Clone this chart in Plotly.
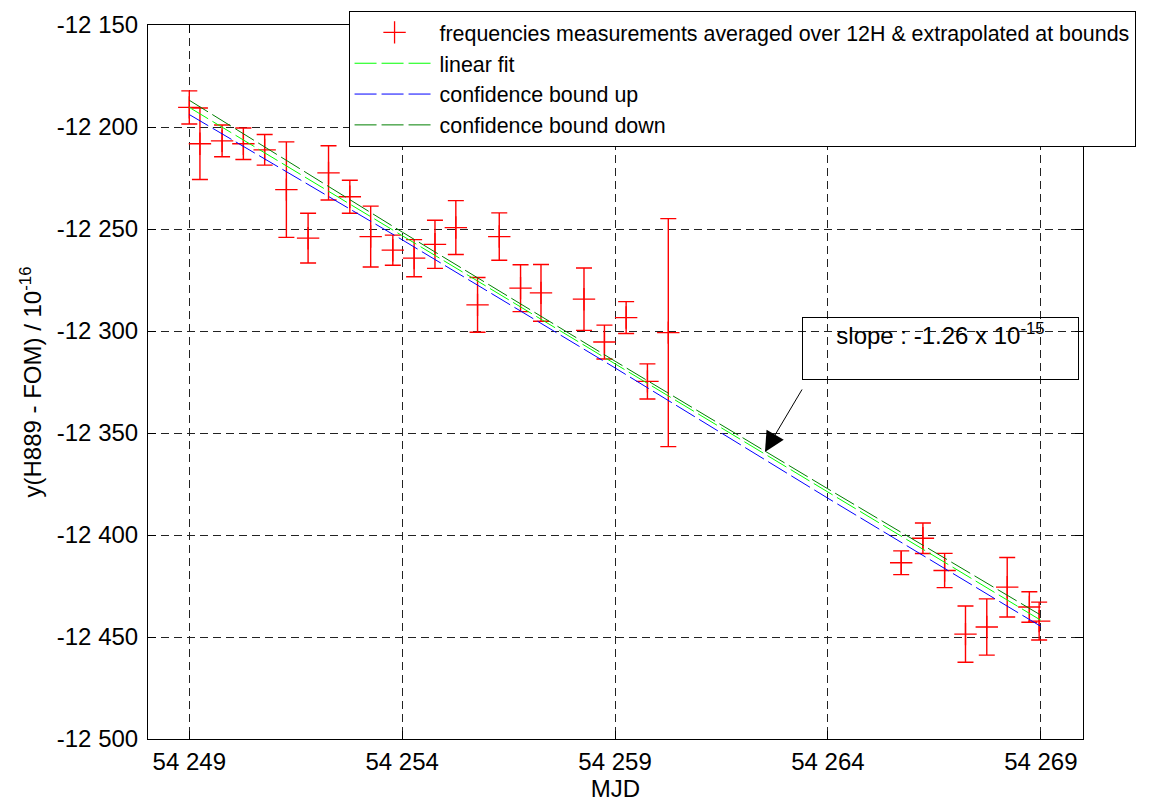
import plotly.graph_objects as go

# ---- data ----
mjd = [54249.00, 54249.25, 54249.77, 54250.27, 54250.77, 54251.28, 54251.79,
       54252.27, 54252.77, 54253.26, 54253.78, 54254.28, 54254.77, 54255.26,
       54255.77, 54256.28, 54256.78, 54257.26, 54258.27, 54258.75, 54259.26,
       54259.76, 54260.25, 54265.72, 54266.23, 54266.74, 54267.23, 54267.73,
       54268.21, 54268.73, 54268.96]
freq = [-12190.4, -12208.2, -12206.8, -12208.2, -12211.2, -12230.7, -12254.5,
        -12222.5, -12234.2, -12253.7, -12260.4, -12264.3, -12257.5, -12249.3,
        -12287.2, -12253.7, -12279.0, -12281.3, -12284.4, -12305.4, -12293.4,
        -12324.7, -12300.8, -12413.6, -12401.6, -12417.4, -12448.6, -12445.1,
        -12425.6, -12435.3, -12442.2]
err = [8.1, 17.5, 7.8, 7.7, 7.5, 23.4, 12.2,
       13.3, 8.1, 14.9, 7.4, 9.1, 11.8, 13.2,
       13.4, 11.6, 11.5, 13.9, 15.3, 8.3, 7.8,
       8.6, 55.9, 5.8, 7.5, 8.4, 13.8, 13.8,
       14.6, 7.5, 9.3]

fit_mjd = [54249, 54254, 54259, 54264, 54269]
fit_val = [-12190.4, -12253.3, -12316.1, -12379.0, -12441.8]
bound_up_val = [-12193.9, -12255.3, -12318.1, -12382.0, -12444.8]      # blue
bound_down_val = [-12186.9, -12251.5, -12314.8, -12377.4, -12439.3]    # dark green

x_tickvals = [54249, 54254, 54259, 54264, 54269]
x_ticktext = ["54 249", "54 254", "54 259", "54 264", "54 269"]
y_tickvals = [-12500, -12450, -12400, -12350, -12300, -12250, -12200, -12150]
y_ticktext = ["-12 500", "-12 450", "-12 400", "-12 350", "-12 300",
              "-12 250", "-12 200", "-12 150"]

FONT = "Liberation Sans, Arial, sans-serif"

fig = go.Figure()
fig.add_trace(go.Scatter(
    x=mjd, y=freq, mode="markers",
    name="frequencies measurements averaged over 12H & extrapolated at bounds",
    marker=dict(symbol="cross-thin", size=16, color="red",
                line=dict(color="red", width=1.3)),
    error_y=dict(type="data", array=err, visible=True, color="red",
                 thickness=1.4, width=8),
))
fig.add_trace(go.Scatter(
    x=fit_mjd, y=fit_val, mode="lines", name="linear fit",
    line=dict(color="#00ff00", width=1, dash="22px,5px"),
))
fig.add_trace(go.Scatter(
    x=fit_mjd, y=bound_up_val, mode="lines", name="confidence bound up",
    line=dict(color="#0000ff", width=1, dash="22px,5px"),
))
fig.add_trace(go.Scatter(
    x=fit_mjd, y=bound_down_val, mode="lines", name="confidence bound down",
    line=dict(color="#007f00", width=1, dash="22px,5px"),
))

axis_common = dict(
    ticks="inside", ticklen=8, tickcolor="black",
    showline=True, linecolor="black", linewidth=1, mirror="ticks",
    showgrid=True, gridcolor="#222222", gridwidth=1, griddash="8px,5px",
    zeroline=False, tickfont=dict(size=24, color="black", family=FONT),
)

# page body has an 8px margin, so the figure is 8px smaller on each axis
fig.update_layout(
    width=1143, height=795,
    margin=dict(l=140, r=68, t=17, b=64, autoexpand=False),
    paper_bgcolor="white", plot_bgcolor="white",
    font=dict(family=FONT, color="black", size=21),
    xaxis=dict(range=[54248.03, 54269.99], tickvals=x_tickvals,
               ticktext=x_ticktext, ticklabelstandoff=1,
               title=dict(text="MJD", font=dict(size=24), standoff=5),
               **axis_common),
    yaxis=dict(range=[-12500, -12150], tickvals=y_tickvals,
               ticktext=y_ticktext, ticklabelstandoff=4,
               title=dict(text="y(H889 - FOM) / 10<sup>-16</sup>",
                          font=dict(size=24), standoff=8),
               **axis_common),
    legend=dict(x=0.2145, y=1.0196, xanchor="left", yanchor="top",
                bgcolor="white", bordercolor="black", borderwidth=1,
                font=dict(size=21.4, family=FONT), tracegroupgap=0,
                itemwidth=80),
    showlegend=True,
)

# slope text box
fig.add_annotation(
    x=54266.64, y=-12308.5, xref="x", yref="y",
    text="slope : -1.26 x 10<sup>-15</sup>", showarrow=False,
    width=273, height=59, align="center", valign="top",
    bordercolor="black", borderwidth=1, borderpad=1,
    font=dict(size=24, family=FONT, color="black"),
)
# arrow
fig.add_annotation(
    x=54262.52, y=-12359.3, xref="x", yref="y", text="",
    showarrow=True, ax=38, ay=-64, arrowhead=2, arrowsize=4,
    arrowwidth=1, arrowcolor="black", standoff=0,
)

fig.write_html("out.html")
